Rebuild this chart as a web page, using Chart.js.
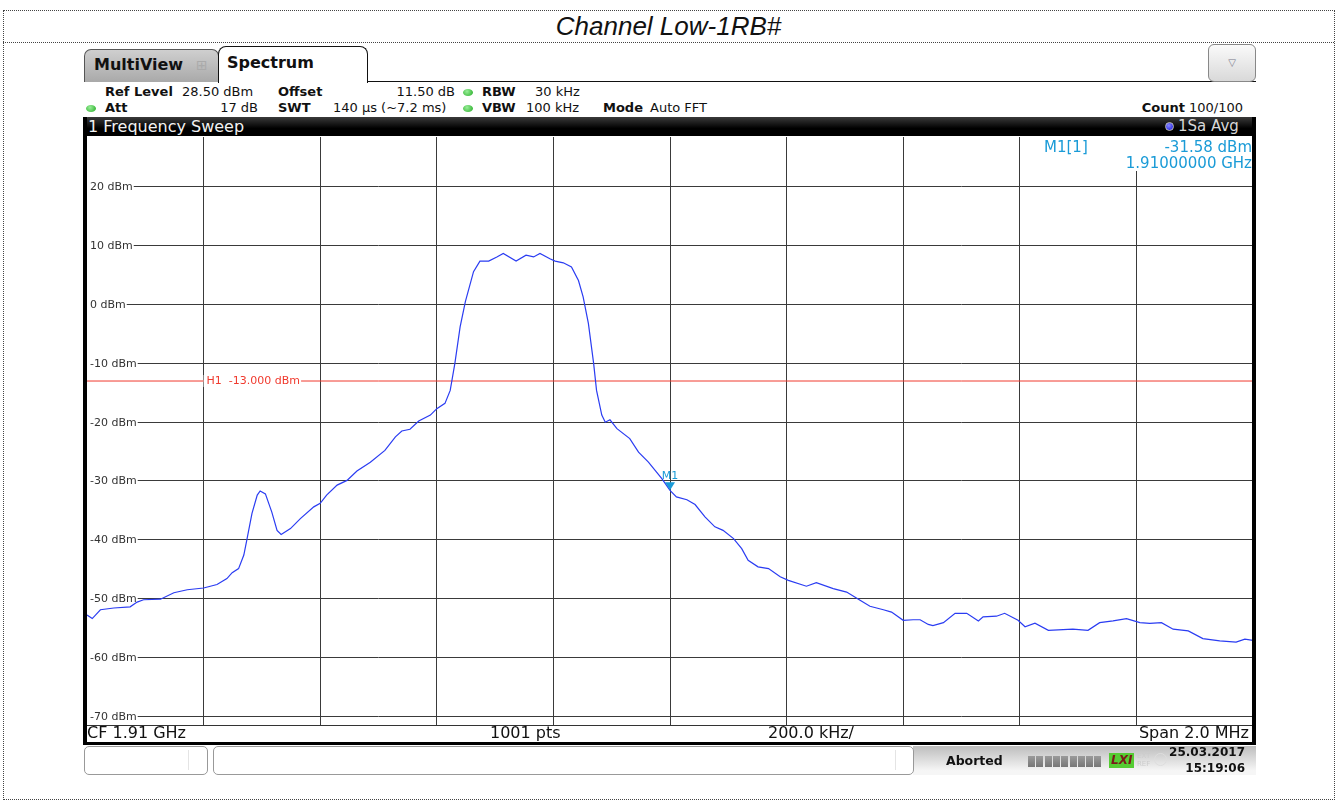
<!DOCTYPE html>
<html lang="en">
<head>
<meta charset="UTF-8">
<title>Channel Low-1RB#</title>
<script src="https://cdn.jsdelivr.net/npm/chart.js"></script>
<style>
  body {
    margin: 0;
    width: 1341px;
    height: 803px;
    position: relative;
    overflow: hidden;
    background: #fff;
    font-family: 'DejaVu Sans', sans-serif;
    color: #111;
  }
  .abs { position: absolute; white-space: nowrap; }
  .b { font-weight: bold; }

  /* marco punteado y titulo */
  #frame { left: 3px; top: 10px; width: 1330px; height: 788px; border: 1px dotted #444; }
  #titleLine { left: 3px; top: 42px; width: 1331px; border-top: 1px dotted #444; }
  #title { left: 3px; top: 11px; width: 1331px; height: 31px; line-height: 31px; text-align: center;
           font-family: 'Liberation Sans', Arial, sans-serif; font-style: italic; font-size: 26px; color: #111; }

  /* pestañas */
  #tabMulti { left: 84px; top: 49px; width: 133px; height: 32px; border: 1px solid #555; border-bottom: none;
              border-radius: 7px 7px 0 0; background: linear-gradient(#cfcfcf, #a9a9a9); }
  #tabSpec { left: 218px; top: 46px; width: 148px; height: 36px; border: 1.5px solid #111; border-bottom: none;
             border-radius: 8px 8px 0 0; background: #fff; }
  #tabLine { left: 367px; top: 81px; width: 889px; border-top: 1.5px solid #111; }
  #drop { left: 1208px; top: 44px; width: 46px; height: 36px; border: 1px solid #888; border-radius: 6px;
          background: linear-gradient(#fafafa, #d9d9d9); text-align: center; line-height: 36px; font-size: 10px; color: #778; }

  .row { font-size: 13px; line-height: 16px; }
  .dot { width: 10px; height: 7px; border-radius: 50%; background: radial-gradient(circle at 40% 35%, #9e9, #2a2); }

  /* barra negra superior */
  #sweepBar { left: 84px; top: 117px; width: 1172px; height: 19px; border-radius: 4px 4px 0 0;
              background: linear-gradient(#3a3a3a, #000 60%); }
  #sweepTxt { left: 88px; top: 117px; line-height: 19px; font-size: 16px; color: #f2f2f2; }
  #avgDot { left: 1165px; top: 122px; width: 9px; height: 9px; border-radius: 50%;
            background: radial-gradient(circle at 40% 35%, #88f, #11d); border: 1px solid #bbb; box-sizing: border-box; }
  #avgTxt { left: 1178px; top: 117px; line-height: 19px; font-size: 15px; color: #d8d8d8; }

  /* area del grafico */
  #plotWrap { left: 87px; top: 137px; width: 1166px; height: 588px; }
  #borderL { left: 83px; top: 117px; width: 4px; height: 628px; background: #000; }
  #borderR { left: 1252px; top: 117px; width: 4px; height: 628px; background: #000; }
  #bottomRow { left: 87px; top: 725px; width: 1165px; height: 17px; border-top: 1px solid #333; background: #fff; }
  #bottomLine { left: 83px; top: 742px; width: 1173px; height: 3px; background: #000; }
  .bt { font-size: 16px; line-height: 18px; top: 724px; }

  #mkBox { left: 1040px; top: 137px; width: 212px; height: 34px; background: #fff; }
  .mk { font-size: 15px; line-height: 16px; color: #1a9bd7; }

  /* barra de estado */
  .sbox { top: 746px; height: 27px; border: 1px solid #999; border-radius: 5px; background: #fff; }
  #statusGrad { left: 913px; top: 746px; width: 343px; height: 29px; background: linear-gradient(#bdbdbd, #f6f6f6 85%); }
  .blk { top: 756px; width: 8px; height: 11px; background: linear-gradient(#9a9a9a, #777); }
  .st { font-size: 12px; font-weight: bold; line-height: 15px; color: #111; }
</style>
</head>
<body>
  <div class="abs" id="frame"></div>
  <div class="abs" id="titleLine"></div>
  <div class="abs" id="title">Channel Low-1RB#</div>

  <div class="abs" id="tabMulti"></div>
  <div class="abs b" style="left:94px;top:56px;font-size:16px;line-height:18px;">MultiView</div>
  <div class="abs" style="left:196px;top:56px;font-size:14px;line-height:18px;color:#aaa;">&#8862;</div>
  <div class="abs" id="tabSpec"></div>
  <div class="abs b" style="left:227px;top:54px;font-size:16px;line-height:18px;">Spectrum</div>
  <div class="abs" id="tabLine"></div>
  <div class="abs" id="drop">&#9661;</div>

  <!-- cabecera de parametros -->
  <div class="abs row b" style="left:105px;top:84px;">Ref Level</div>
  <div class="abs row" style="left:182px;top:84px;">28.50 dBm</div>
  <div class="abs row b" style="left:278px;top:84px;">Offset</div>
  <div class="abs row" style="right:886px;top:84px;">11.50 dB</div>
  <div class="abs dot" style="left:463px;top:89px;"></div>
  <div class="abs row b" style="left:482px;top:84px;">RBW</div>
  <div class="abs row" style="left:535px;top:84px;">30 kHz</div>

  <div class="abs dot" style="left:86px;top:105px;"></div>
  <div class="abs row b" style="left:105px;top:100px;">Att</div>
  <div class="abs row" style="right:1083px;top:100px;">17 dB</div>
  <div class="abs row b" style="left:278px;top:100px;">SWT</div>
  <div class="abs row" style="left:333px;top:100px;">140 µs (~7.2 ms)</div>
  <div class="abs dot" style="left:463px;top:105px;"></div>
  <div class="abs row b" style="left:482px;top:100px;">VBW</div>
  <div class="abs row" style="left:526px;top:100px;">100 kHz</div>
  <div class="abs row b" style="left:603px;top:100px;">Mode</div>
  <div class="abs row" style="left:650px;top:100px;">Auto FFT</div>
  <div class="abs row" style="right:98px;top:100px;"><b>Count</b> 100/100</div>

  <div class="abs" id="sweepBar"></div>
  <div class="abs" id="sweepTxt">1 Frequency Sweep</div>
  <div class="abs" id="avgDot"></div>
  <div class="abs" id="avgTxt">1Sa Avg</div>

  <div class="abs" id="plotWrap"><canvas id="spectrum" width="1166" height="588"></canvas></div>

  <div class="abs" id="mkBox"></div>
  <div class="abs mk" style="left:1044px;top:139px;">M1[1]</div>
  <div class="abs mk" style="right:89px;top:139px;">-31.58 dBm</div>
  <div class="abs mk" style="right:89px;top:155px;">1.91000000 GHz</div>

  <div class="abs" id="borderL"></div>
  <div class="abs" id="borderR"></div>
  <div class="abs" id="bottomRow"></div>
  <div class="abs bt" style="left:87px;">CF 1.91 GHz</div>
  <div class="abs bt" style="left:490px;">1001 pts</div>
  <div class="abs bt" style="left:768px;">200.0 kHz/</div>
  <div class="abs bt" style="right:92px;">Span 2.0 MHz</div>
  <div class="abs" id="bottomLine"></div>

  <!-- barra de estado -->
  <div class="abs" id="statusGrad"></div>
  <div class="abs sbox" style="left:84px;width:122px;"></div>
  <div class="abs" style="left:188px;top:750px;width:1px;height:20px;background:#e4e4e4;"></div>
  <div class="abs sbox" style="left:213px;width:699px;"></div>
  <div class="abs" style="left:895px;top:750px;width:1px;height:20px;background:#e4e4e4;"></div>
  <div class="abs st" style="left:946px;top:753px;font-size:12.5px;">Aborted</div>
  <div id="blocks"></div>
  <div class="abs" style="left:1109px;top:753px;font-size:12px;line-height:15px;font-weight:bold;font-style:italic;color:#7a1a1a;background:#5c3;padding:0 2px;">LXI</div>
  <div class="abs" style="left:1137px;top:752px;font-size:7px;line-height:8px;color:#ccc;">EXT<br>REF</div>
  <div class="abs" style="left:1154px;top:753px;width:11px;height:11px;border:1px solid #ddd;border-radius:50%;"></div>
  <div class="abs st" style="right:96px;top:745px;">25.03.2017</div>
  <div class="abs st" style="right:96px;top:761px;">15:19:06</div>

<script>
  // traza promediada, offset respecto a CF 1.91 GHz (kHz) y nivel (dBm)
  const freqOffsetKHz = [-1000,-991,-977,-954,-926,-914,-903,-874,-851,-828,
    -800,-777,-760,-751,-740,-731,-726,-717,-708,-703,
    -694,-683,-674,-667,-651,-634,-611,-600,-589,-571,
    -554,-537,-514,-489,-471,-460,-446,-431,-411,-400,
    -386,-377,-369,-360,-351,-337,-326,-311,-297,-286,
    -264,-247,-234,-223,-206,-197,-183,-169,-157,-149,
    -140,-131,-126,-117,-111,-103,-91,-69,-54,-37,
    -14,0,11,29,43,60,77,91,109,123,
    134,151,169,189,203,234,251,280,303,326,
    343,366,380,400,417,429,443,451,469,489,
    509,529,537,560,574,597,609,626,649,691,
    717,737,760,783,806,823,843,863,889,914,
    943,971,986,1000];
  const levelDbm = [-52.8,-53.4,-51.9,-51.6,-51.4,-50.6,-50.2,-50.1,-49.0,-48.5,
    -48.2,-47.6,-46.6,-45.6,-44.9,-42.6,-40.1,-35.5,-32.4,-31.7,
    -32.2,-35.3,-38.4,-39.1,-38.1,-36.4,-34.4,-33.8,-32.4,-30.7,
    -29.9,-28.3,-26.8,-24.8,-22.5,-21.5,-21.2,-19.8,-18.8,-17.7,
    -16.8,-14.6,-10.0,-3.8,0.5,5.6,7.4,7.4,8.1,8.7,
    7.4,8.4,8.1,8.7,7.8,7.4,7.1,6.4,4.1,1.3,
    -3.2,-10.0,-14.6,-18.8,-20.0,-19.6,-21.1,-22.8,-25.1,-26.8,
    -29.6,-31.6,-32.7,-33.2,-34.0,-36.1,-37.8,-38.4,-39.8,-41.5,
    -43.5,-44.6,-44.9,-46.3,-46.9,-47.9,-47.3,-48.3,-48.9,-50.3,
    -51.3,-51.9,-52.3,-53.7,-53.6,-53.6,-54.4,-54.6,-54.1,-52.5,
    -52.5,-53.8,-53.1,-53.0,-52.5,-53.7,-54.8,-54.2,-55.4,-55.2,
    -55.4,-54.1,-53.8,-53.4,-54.1,-54.2,-54.1,-55.2,-55.5,-56.8,
    -57.2,-57.4,-56.9,-57.1];

  // ejes: span 2 MHz (200 kHz/div), ref level 28.5 dBm, 10 dB/div
  const spanKHz = [-1000, 1000];
  const levelRange = [-71.5, 28.5];
  const xGrid = [-800, -600, -400, -200, 0, 200, 400, 600, 800];
  const yTicks = [20, 10, 0, -10, -20, -30, -40, -50, -60, -70];

  // linea limite H1 y marcador M1
  const h1Level = -13;
  const h1Label = 'H1  -13.000 dBm';
  const markerKHz = 0;
  const markerDbm = -31.58;

  // bloques de la barra de progreso
  const blocks = document.getElementById('blocks');
  for (let i = 0; i < 9; i++) {
    const d = document.createElement('div');
    d.className = 'abs blk';
    d.style.left = (1028 + i * 8.3) + 'px';
    d.style.width = '7px';
    blocks.appendChild(d);
  }

  // texto con fondo blanco que tapa la reticula
  function boxedText(ctx, txt, x, y, color) {
    const w = ctx.measureText(txt).width;
    ctx.fillStyle = '#fff';
    ctx.fillRect(x - 3, y - 6, w + 4, 12);
    ctx.fillStyle = color;
    ctx.fillText(txt, x, y + 0.5);
  }

  const overlay = {
    id: 'overlay',
    beforeDatasetsDraw(chart) {
      // etiquetas del eje Y dentro del area
      const ctx = chart.ctx, ys = chart.scales.y;
      ctx.save();
      ctx.font = '11px "DejaVu Sans"';
      ctx.textBaseline = 'middle';
      ys.ticks.forEach(t => {
        boxedText(ctx, t.value + ' dBm', chart.chartArea.left + 3, ys.getPixelForValue(t.value), '#333');
      });
      ctx.restore();
    },
    afterDatasetsDraw(chart) {
      const ctx = chart.ctx, xs = chart.scales.x, ys = chart.scales.y;
      ctx.save();
      ctx.font = '11px "DejaVu Sans"';
      ctx.textBaseline = 'middle';
      // etiqueta H1
      boxedText(ctx, h1Label, xs.getPixelForValue(xGrid[0]) + 3, ys.getPixelForValue(h1Level), '#f03a2e');
      // marcador M1
      const mx = xs.getPixelForValue(markerKHz);
      const my = ys.getPixelForValue(markerDbm);
      ctx.fillStyle = '#1a9bd7';
      ctx.beginPath();
      ctx.moveTo(mx - 5, my - 8);
      ctx.lineTo(mx + 5, my - 8);
      ctx.lineTo(mx, my);
      ctx.closePath();
      ctx.fill();
      ctx.textAlign = 'center';
      ctx.fillText('M1', mx, my - 14);
      ctx.restore();
    }
  };

  new Chart(document.getElementById('spectrum'), {
    type: 'line',
    data: {
      datasets: [
        {
          label: 'Trace 1',
          data: freqOffsetKHz.map((f, i) => ({ x: f, y: levelDbm[i] })),
          borderColor: '#2a3cf2',
          borderWidth: 1.2,
          pointRadius: 0,
          tension: 0
        },
        {
          label: 'H1',
          data: spanKHz.map(f => ({ x: f, y: h1Level })),
          borderColor: '#f03a2e',
          borderWidth: 1,
          pointRadius: 0
        }
      ]
    },
    options: {
      responsive: false,
      animation: false,
      layout: { padding: 0 },
      plugins: { legend: { display: false }, tooltip: { enabled: false } },
      scales: {
        x: {
          type: 'linear',
          min: spanKHz[0],
          max: spanKHz[1],
          afterBuildTicks: s => { s.ticks = xGrid.map(v => ({ value: v })); },
          ticks: { display: false },
          grid: { color: '#3a3a3a', lineWidth: 1, drawTicks: false },
          border: { display: false }
        },
        y: {
          type: 'linear',
          min: levelRange[0],
          max: levelRange[1],
          afterBuildTicks: s => { s.ticks = yTicks.map(v => ({ value: v })); },
          ticks: { display: false },
          grid: { color: '#3a3a3a', lineWidth: 1, drawTicks: false },
          border: { display: false }
        }
      }
    },
    plugins: [overlay]
  });
</script>
</body>
</html>
